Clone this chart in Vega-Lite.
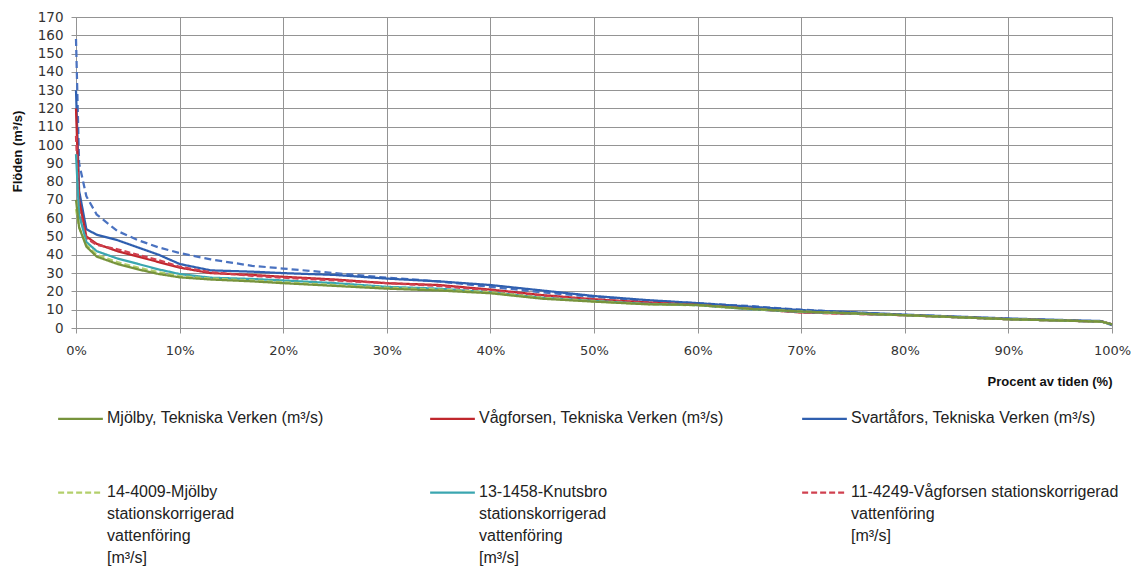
{
  "$schema": "https://vega.github.io/schema/vega-lite/v6.json",
  "width": 1036,
  "height": 311,
  "autosize": {"type": "none"},
  "padding": {"left": 76, "top": 17, "right": 30, "bottom": 238},
  "background": "white",
  "config": {
    "view": {"stroke": "#949494", "strokeWidth": 1},
    "style": {"guide-label": {"lineHeight": 22}}
  },
  "data": {
    "values": [
      {"s": "Svartåfors stationskorrigerad vattenföring [m³/s]", "p": 0, "v": 158},
      {"s": "Svartåfors stationskorrigerad vattenföring [m³/s]", "p": 0.3, "v": 90},
      {"s": "Svartåfors stationskorrigerad vattenföring [m³/s]", "p": 1, "v": 72},
      {"s": "Svartåfors stationskorrigerad vattenföring [m³/s]", "p": 2, "v": 62},
      {"s": "Svartåfors stationskorrigerad vattenföring [m³/s]", "p": 4, "v": 53},
      {"s": "Svartåfors stationskorrigerad vattenföring [m³/s]", "p": 6, "v": 48},
      {"s": "Svartåfors stationskorrigerad vattenföring [m³/s]", "p": 8, "v": 44},
      {"s": "Svartåfors stationskorrigerad vattenföring [m³/s]", "p": 10, "v": 41},
      {"s": "Svartåfors stationskorrigerad vattenföring [m³/s]", "p": 13, "v": 37.5},
      {"s": "Svartåfors stationskorrigerad vattenföring [m³/s]", "p": 17, "v": 34},
      {"s": "Svartåfors stationskorrigerad vattenföring [m³/s]", "p": 20, "v": 32.5},
      {"s": "Svartåfors stationskorrigerad vattenföring [m³/s]", "p": 25, "v": 30},
      {"s": "Svartåfors stationskorrigerad vattenföring [m³/s]", "p": 30, "v": 27.5},
      {"s": "Svartåfors stationskorrigerad vattenföring [m³/s]", "p": 35, "v": 25.5},
      {"s": "Svartåfors stationskorrigerad vattenföring [m³/s]", "p": 40, "v": 22.5},
      {"s": "Svartåfors stationskorrigerad vattenföring [m³/s]", "p": 45, "v": 19.5},
      {"s": "Svartåfors stationskorrigerad vattenföring [m³/s]", "p": 50, "v": 17},
      {"s": "Svartåfors stationskorrigerad vattenföring [m³/s]", "p": 55, "v": 15},
      {"s": "Svartåfors stationskorrigerad vattenföring [m³/s]", "p": 60, "v": 13.5},
      {"s": "Svartåfors stationskorrigerad vattenföring [m³/s]", "p": 65, "v": 12},
      {"s": "Svartåfors stationskorrigerad vattenföring [m³/s]", "p": 70, "v": 10},
      {"s": "Svartåfors stationskorrigerad vattenföring [m³/s]", "p": 80, "v": 7.2},
      {"s": "Svartåfors stationskorrigerad vattenföring [m³/s]", "p": 90, "v": 5},
      {"s": "Svartåfors stationskorrigerad vattenföring [m³/s]", "p": 99, "v": 3.5},
      {"s": "Svartåfors stationskorrigerad vattenföring [m³/s]", "p": 100, "v": 2},

      {"s": "Svartåfors, Tekniska Verken (m³/s)", "p": 0, "v": 130},
      {"s": "Svartåfors, Tekniska Verken (m³/s)", "p": 0.3, "v": 75},
      {"s": "Svartåfors, Tekniska Verken (m³/s)", "p": 1, "v": 54},
      {"s": "Svartåfors, Tekniska Verken (m³/s)", "p": 2, "v": 51},
      {"s": "Svartåfors, Tekniska Verken (m³/s)", "p": 4, "v": 48},
      {"s": "Svartåfors, Tekniska Verken (m³/s)", "p": 6, "v": 44},
      {"s": "Svartåfors, Tekniska Verken (m³/s)", "p": 8, "v": 40},
      {"s": "Svartåfors, Tekniska Verken (m³/s)", "p": 10, "v": 35},
      {"s": "Svartåfors, Tekniska Verken (m³/s)", "p": 13, "v": 31.5},
      {"s": "Svartåfors, Tekniska Verken (m³/s)", "p": 17, "v": 30.8},
      {"s": "Svartåfors, Tekniska Verken (m³/s)", "p": 20, "v": 30},
      {"s": "Svartåfors, Tekniska Verken (m³/s)", "p": 25, "v": 29},
      {"s": "Svartåfors, Tekniska Verken (m³/s)", "p": 30, "v": 27},
      {"s": "Svartåfors, Tekniska Verken (m³/s)", "p": 35, "v": 25.5},
      {"s": "Svartåfors, Tekniska Verken (m³/s)", "p": 40, "v": 23.5},
      {"s": "Svartåfors, Tekniska Verken (m³/s)", "p": 45, "v": 20.5},
      {"s": "Svartåfors, Tekniska Verken (m³/s)", "p": 50, "v": 17.5},
      {"s": "Svartåfors, Tekniska Verken (m³/s)", "p": 55, "v": 15.3},
      {"s": "Svartåfors, Tekniska Verken (m³/s)", "p": 60, "v": 13.6},
      {"s": "Svartåfors, Tekniska Verken (m³/s)", "p": 65, "v": 11.7},
      {"s": "Svartåfors, Tekniska Verken (m³/s)", "p": 70, "v": 9.8},
      {"s": "Svartåfors, Tekniska Verken (m³/s)", "p": 80, "v": 7.3},
      {"s": "Svartåfors, Tekniska Verken (m³/s)", "p": 90, "v": 5.2},
      {"s": "Svartåfors, Tekniska Verken (m³/s)", "p": 99, "v": 3.8},
      {"s": "Svartåfors, Tekniska Verken (m³/s)", "p": 100, "v": 1.5},

      {"s": "Vågforsen, Tekniska Verken (m³/s)", "p": 0, "v": 120},
      {"s": "Vågforsen, Tekniska Verken (m³/s)", "p": 0.3, "v": 70},
      {"s": "Vågforsen, Tekniska Verken (m³/s)", "p": 1, "v": 50},
      {"s": "Vågforsen, Tekniska Verken (m³/s)", "p": 2, "v": 46},
      {"s": "Vågforsen, Tekniska Verken (m³/s)", "p": 4, "v": 42},
      {"s": "Vågforsen, Tekniska Verken (m³/s)", "p": 6, "v": 39},
      {"s": "Vågforsen, Tekniska Verken (m³/s)", "p": 8, "v": 36},
      {"s": "Vågforsen, Tekniska Verken (m³/s)", "p": 10, "v": 33},
      {"s": "Vågforsen, Tekniska Verken (m³/s)", "p": 13, "v": 30},
      {"s": "Vågforsen, Tekniska Verken (m³/s)", "p": 17, "v": 29},
      {"s": "Vågforsen, Tekniska Verken (m³/s)", "p": 20, "v": 28},
      {"s": "Vågforsen, Tekniska Verken (m³/s)", "p": 25, "v": 26.5},
      {"s": "Vågforsen, Tekniska Verken (m³/s)", "p": 30, "v": 24.5},
      {"s": "Vågforsen, Tekniska Verken (m³/s)", "p": 35, "v": 23.5},
      {"s": "Vågforsen, Tekniska Verken (m³/s)", "p": 40, "v": 21},
      {"s": "Vågforsen, Tekniska Verken (m³/s)", "p": 45, "v": 18},
      {"s": "Vågforsen, Tekniska Verken (m³/s)", "p": 50, "v": 15.7},
      {"s": "Vågforsen, Tekniska Verken (m³/s)", "p": 55, "v": 14},
      {"s": "Vågforsen, Tekniska Verken (m³/s)", "p": 60, "v": 12.6},
      {"s": "Vågforsen, Tekniska Verken (m³/s)", "p": 65, "v": 10.5},
      {"s": "Vågforsen, Tekniska Verken (m³/s)", "p": 70, "v": 8.5},
      {"s": "Vågforsen, Tekniska Verken (m³/s)", "p": 80, "v": 7},
      {"s": "Vågforsen, Tekniska Verken (m³/s)", "p": 90, "v": 4.8},
      {"s": "Vågforsen, Tekniska Verken (m³/s)", "p": 99, "v": 3.5},
      {"s": "Vågforsen, Tekniska Verken (m³/s)", "p": 100, "v": 2},

      {"s": "11-4249-Vågforsen stationskorrigerad vattenföring [m³/s]", "p": 0, "v": 105},
      {"s": "11-4249-Vågforsen stationskorrigerad vattenföring [m³/s]", "p": 0.3, "v": 65},
      {"s": "11-4249-Vågforsen stationskorrigerad vattenföring [m³/s]", "p": 1, "v": 49},
      {"s": "11-4249-Vågforsen stationskorrigerad vattenföring [m³/s]", "p": 2, "v": 45.5},
      {"s": "11-4249-Vågforsen stationskorrigerad vattenföring [m³/s]", "p": 4, "v": 43},
      {"s": "11-4249-Vågforsen stationskorrigerad vattenföring [m³/s]", "p": 6, "v": 40},
      {"s": "11-4249-Vågforsen stationskorrigerad vattenföring [m³/s]", "p": 8, "v": 37},
      {"s": "11-4249-Vågforsen stationskorrigerad vattenföring [m³/s]", "p": 10, "v": 33.5},
      {"s": "11-4249-Vågforsen stationskorrigerad vattenföring [m³/s]", "p": 13, "v": 30.5},
      {"s": "11-4249-Vågforsen stationskorrigerad vattenföring [m³/s]", "p": 17, "v": 28.5},
      {"s": "11-4249-Vågforsen stationskorrigerad vattenföring [m³/s]", "p": 20, "v": 27.5},
      {"s": "11-4249-Vågforsen stationskorrigerad vattenföring [m³/s]", "p": 25, "v": 26},
      {"s": "11-4249-Vågforsen stationskorrigerad vattenföring [m³/s]", "p": 30, "v": 24.5},
      {"s": "11-4249-Vågforsen stationskorrigerad vattenföring [m³/s]", "p": 35, "v": 23},
      {"s": "11-4249-Vågforsen stationskorrigerad vattenföring [m³/s]", "p": 40, "v": 20.5},
      {"s": "11-4249-Vågforsen stationskorrigerad vattenföring [m³/s]", "p": 45, "v": 17.5},
      {"s": "11-4249-Vågforsen stationskorrigerad vattenföring [m³/s]", "p": 50, "v": 15.5},
      {"s": "11-4249-Vågforsen stationskorrigerad vattenföring [m³/s]", "p": 55, "v": 13.8},
      {"s": "11-4249-Vågforsen stationskorrigerad vattenföring [m³/s]", "p": 60, "v": 12.5},
      {"s": "11-4249-Vågforsen stationskorrigerad vattenföring [m³/s]", "p": 65, "v": 10.5},
      {"s": "11-4249-Vågforsen stationskorrigerad vattenföring [m³/s]", "p": 70, "v": 8.6},
      {"s": "11-4249-Vågforsen stationskorrigerad vattenföring [m³/s]", "p": 80, "v": 7},
      {"s": "11-4249-Vågforsen stationskorrigerad vattenföring [m³/s]", "p": 90, "v": 4.8},
      {"s": "11-4249-Vågforsen stationskorrigerad vattenföring [m³/s]", "p": 99, "v": 3.5},
      {"s": "11-4249-Vågforsen stationskorrigerad vattenföring [m³/s]", "p": 100, "v": 2},

      {"s": "13-1458-Knutsbro stationskorrigerad vattenföring [m³/s]", "p": 0, "v": 95},
      {"s": "13-1458-Knutsbro stationskorrigerad vattenföring [m³/s]", "p": 0.3, "v": 62},
      {"s": "13-1458-Knutsbro stationskorrigerad vattenföring [m³/s]", "p": 1, "v": 47},
      {"s": "13-1458-Knutsbro stationskorrigerad vattenföring [m³/s]", "p": 2, "v": 42},
      {"s": "13-1458-Knutsbro stationskorrigerad vattenföring [m³/s]", "p": 4, "v": 38},
      {"s": "13-1458-Knutsbro stationskorrigerad vattenföring [m³/s]", "p": 6, "v": 35},
      {"s": "13-1458-Knutsbro stationskorrigerad vattenföring [m³/s]", "p": 8, "v": 32},
      {"s": "13-1458-Knutsbro stationskorrigerad vattenföring [m³/s]", "p": 10, "v": 29.5},
      {"s": "13-1458-Knutsbro stationskorrigerad vattenföring [m³/s]", "p": 13, "v": 27.5},
      {"s": "13-1458-Knutsbro stationskorrigerad vattenföring [m³/s]", "p": 17, "v": 26.8},
      {"s": "13-1458-Knutsbro stationskorrigerad vattenföring [m³/s]", "p": 20, "v": 26},
      {"s": "13-1458-Knutsbro stationskorrigerad vattenföring [m³/s]", "p": 25, "v": 24.5},
      {"s": "13-1458-Knutsbro stationskorrigerad vattenföring [m³/s]", "p": 30, "v": 22.5},
      {"s": "13-1458-Knutsbro stationskorrigerad vattenföring [m³/s]", "p": 35, "v": 21.5},
      {"s": "13-1458-Knutsbro stationskorrigerad vattenföring [m³/s]", "p": 40, "v": 19.5},
      {"s": "13-1458-Knutsbro stationskorrigerad vattenföring [m³/s]", "p": 45, "v": 16.5},
      {"s": "13-1458-Knutsbro stationskorrigerad vattenföring [m³/s]", "p": 50, "v": 14.8},
      {"s": "13-1458-Knutsbro stationskorrigerad vattenföring [m³/s]", "p": 55, "v": 13.2},
      {"s": "13-1458-Knutsbro stationskorrigerad vattenföring [m³/s]", "p": 60, "v": 12.5},
      {"s": "13-1458-Knutsbro stationskorrigerad vattenföring [m³/s]", "p": 65, "v": 10.3},
      {"s": "13-1458-Knutsbro stationskorrigerad vattenföring [m³/s]", "p": 70, "v": 8.8},
      {"s": "13-1458-Knutsbro stationskorrigerad vattenföring [m³/s]", "p": 80, "v": 7},
      {"s": "13-1458-Knutsbro stationskorrigerad vattenföring [m³/s]", "p": 90, "v": 4.8},
      {"s": "13-1458-Knutsbro stationskorrigerad vattenföring [m³/s]", "p": 99, "v": 3.5},
      {"s": "13-1458-Knutsbro stationskorrigerad vattenföring [m³/s]", "p": 100, "v": 2},

      {"s": "14-4009-Mjölby stationskorrigerad vattenföring [m³/s]", "p": 0, "v": 65},
      {"s": "14-4009-Mjölby stationskorrigerad vattenföring [m³/s]", "p": 0.3, "v": 55},
      {"s": "14-4009-Mjölby stationskorrigerad vattenföring [m³/s]", "p": 1, "v": 45.5},
      {"s": "14-4009-Mjölby stationskorrigerad vattenföring [m³/s]", "p": 2, "v": 40},
      {"s": "14-4009-Mjölby stationskorrigerad vattenföring [m³/s]", "p": 4, "v": 36},
      {"s": "14-4009-Mjölby stationskorrigerad vattenföring [m³/s]", "p": 6, "v": 33},
      {"s": "14-4009-Mjölby stationskorrigerad vattenföring [m³/s]", "p": 8, "v": 30.5},
      {"s": "14-4009-Mjölby stationskorrigerad vattenföring [m³/s]", "p": 10, "v": 28.4},
      {"s": "14-4009-Mjölby stationskorrigerad vattenföring [m³/s]", "p": 13, "v": 27},
      {"s": "14-4009-Mjölby stationskorrigerad vattenföring [m³/s]", "p": 17, "v": 26},
      {"s": "14-4009-Mjölby stationskorrigerad vattenföring [m³/s]", "p": 20, "v": 25},
      {"s": "14-4009-Mjölby stationskorrigerad vattenföring [m³/s]", "p": 25, "v": 23.5},
      {"s": "14-4009-Mjölby stationskorrigerad vattenföring [m³/s]", "p": 30, "v": 22},
      {"s": "14-4009-Mjölby stationskorrigerad vattenföring [m³/s]", "p": 35, "v": 21},
      {"s": "14-4009-Mjölby stationskorrigerad vattenföring [m³/s]", "p": 40, "v": 19.5},
      {"s": "14-4009-Mjölby stationskorrigerad vattenföring [m³/s]", "p": 45, "v": 16.5},
      {"s": "14-4009-Mjölby stationskorrigerad vattenföring [m³/s]", "p": 50, "v": 14.6},
      {"s": "14-4009-Mjölby stationskorrigerad vattenföring [m³/s]", "p": 55, "v": 13},
      {"s": "14-4009-Mjölby stationskorrigerad vattenföring [m³/s]", "p": 60, "v": 12.4},
      {"s": "14-4009-Mjölby stationskorrigerad vattenföring [m³/s]", "p": 65, "v": 10.4},
      {"s": "14-4009-Mjölby stationskorrigerad vattenföring [m³/s]", "p": 70, "v": 9},
      {"s": "14-4009-Mjölby stationskorrigerad vattenföring [m³/s]", "p": 80, "v": 7},
      {"s": "14-4009-Mjölby stationskorrigerad vattenföring [m³/s]", "p": 90, "v": 4.8},
      {"s": "14-4009-Mjölby stationskorrigerad vattenföring [m³/s]", "p": 99, "v": 3.5},
      {"s": "14-4009-Mjölby stationskorrigerad vattenföring [m³/s]", "p": 100, "v": 2},

      {"s": "Mjölby, Tekniska Verken (m³/s)", "p": 0, "v": 70},
      {"s": "Mjölby, Tekniska Verken (m³/s)", "p": 0.3, "v": 55},
      {"s": "Mjölby, Tekniska Verken (m³/s)", "p": 1, "v": 44.5},
      {"s": "Mjölby, Tekniska Verken (m³/s)", "p": 2, "v": 39},
      {"s": "Mjölby, Tekniska Verken (m³/s)", "p": 4, "v": 35},
      {"s": "Mjölby, Tekniska Verken (m³/s)", "p": 6, "v": 32},
      {"s": "Mjölby, Tekniska Verken (m³/s)", "p": 8, "v": 29.5},
      {"s": "Mjölby, Tekniska Verken (m³/s)", "p": 10, "v": 27.7},
      {"s": "Mjölby, Tekniska Verken (m³/s)", "p": 13, "v": 26.5},
      {"s": "Mjölby, Tekniska Verken (m³/s)", "p": 17, "v": 25.5},
      {"s": "Mjölby, Tekniska Verken (m³/s)", "p": 20, "v": 24.5},
      {"s": "Mjölby, Tekniska Verken (m³/s)", "p": 25, "v": 23},
      {"s": "Mjölby, Tekniska Verken (m³/s)", "p": 30, "v": 21.5},
      {"s": "Mjölby, Tekniska Verken (m³/s)", "p": 35, "v": 20.5},
      {"s": "Mjölby, Tekniska Verken (m³/s)", "p": 40, "v": 19},
      {"s": "Mjölby, Tekniska Verken (m³/s)", "p": 45, "v": 16},
      {"s": "Mjölby, Tekniska Verken (m³/s)", "p": 50, "v": 14.4},
      {"s": "Mjölby, Tekniska Verken (m³/s)", "p": 55, "v": 13},
      {"s": "Mjölby, Tekniska Verken (m³/s)", "p": 60, "v": 12.6},
      {"s": "Mjölby, Tekniska Verken (m³/s)", "p": 65, "v": 10.5},
      {"s": "Mjölby, Tekniska Verken (m³/s)", "p": 70, "v": 9},
      {"s": "Mjölby, Tekniska Verken (m³/s)", "p": 80, "v": 7},
      {"s": "Mjölby, Tekniska Verken (m³/s)", "p": 90, "v": 4.8},
      {"s": "Mjölby, Tekniska Verken (m³/s)", "p": 99, "v": 3.5},
      {"s": "Mjölby, Tekniska Verken (m³/s)", "p": 100, "v": 2}
    ]
  },
  "mark": {"type": "line", "strokeCap": "butt", "strokeJoin": "round"},
  "encoding": {
    "x": {
      "field": "p",
      "type": "quantitative",
      "scale": {"domain": [0, 100], "nice": false},
      "axis": {
        "values": [0, 10, 20, 30, 40, 50, 60, 70, 80, 90, 100],
        "labelExpr": "datum.value + '%'",
        "labelFlush": false,
        "labelFont": "DejaVu Sans",
        "labelFontSize": 13,
        "labelColor": "#333333",
        "labelPadding": 11,
        "grid": true,
        "gridColor": "#949494",
        "domainColor": "#949494",
        "tickColor": "#949494",
        "tickSize": 5,
        "title": "Procent av tiden (%)",
        "titleFont": "Liberation Sans",
        "titleFontSize": 13,
        "titleFontWeight": "bold",
        "titleColor": "#111111",
        "titleX": 1036,
        "titleY": 53,
        "titleAlign": "right",
        "titleBaseline": "middle"
      }
    },
    "y": {
      "field": "v",
      "type": "quantitative",
      "scale": {"domain": [0, 170], "nice": false},
      "axis": {
        "values": [0, 10, 20, 30, 40, 50, 60, 70, 80, 90, 100, 110, 120, 130, 140, 150, 160, 170],
        "labelOverlap": false,
        "labelFont": "DejaVu Sans",
        "labelFontSize": 13.5,
        "labelColor": "#333333",
        "labelPadding": 8,
        "grid": true,
        "gridColor": "#949494",
        "domainColor": "#949494",
        "tickColor": "#949494",
        "tickSize": 5,
        "title": "Flöden (m³/s)",
        "titleFont": "Liberation Sans",
        "titleFontSize": 13,
        "titleFontWeight": "bold",
        "titleColor": "#111111",
        "titleAngle": -90,
        "titleX": -59,
        "titleY": 134,
        "titleAlign": "center",
        "titleBaseline": "middle"
      }
    },
    "color": {
      "field": "s",
      "type": "nominal",
      "scale": {
        "domain": [
          "Mjölby, Tekniska Verken (m³/s)",
          "Vågforsen, Tekniska Verken (m³/s)",
          "Svartåfors, Tekniska Verken (m³/s)",
          "14-4009-Mjölby stationskorrigerad vattenföring [m³/s]",
          "13-1458-Knutsbro stationskorrigerad vattenföring [m³/s]",
          "11-4249-Vågforsen stationskorrigerad vattenföring [m³/s]",
          "Svartåfors stationskorrigerad vattenföring [m³/s]"
        ],
        "range": ["#77933C", "#C0272D", "#2F5FAF", "#B3CF6B", "#3AA6B0", "#D0404F", "#4A72C0"]
      },
      "legend": {
        "title": null,
        "orient": "none",
        "legendX": -19,
        "legendY": 345,
        "direction": "horizontal",
        "columns": 3,
        "gridAlign": "all",
        "columnPadding": 50,
        "rowPadding": 10,
        "values": [
          "Mjölby, Tekniska Verken (m³/s)",
          "Vågforsen, Tekniska Verken (m³/s)",
          "Svartåfors, Tekniska Verken (m³/s)",
          "14-4009-Mjölby stationskorrigerad vattenföring [m³/s]",
          "13-1458-Knutsbro stationskorrigerad vattenföring [m³/s]",
          "11-4249-Vågforsen stationskorrigerad vattenföring [m³/s]"
        ],
        "symbolType": "stroke",
        "symbolSize": 2000,
        "symbolStrokeWidth": 2.5,
        "labelFont": "Liberation Sans Narrow, Liberation Sans, sans-serif",
        "labelFontSize": 16,
        "labelColor": "#222222",
        "labelLimit": 400,
        "labelOffset": 3,
        "labelBaseline": "top",
        "labelExpr": "datum.label == '14-4009-Mjölby stationskorrigerad vattenföring [m³/s]' ? ['14-4009-Mjölby', 'stationskorrigerad', 'vattenföring', '[m³/s]'] : datum.label == '13-1458-Knutsbro stationskorrigerad vattenföring [m³/s]' ? ['13-1458-Knutsbro', 'stationskorrigerad', 'vattenföring', '[m³/s]'] : datum.label == '11-4249-Vågforsen stationskorrigerad vattenföring [m³/s]' ? ['11-4249-Vågforsen stationskorrigerad', 'vattenföring', '[m³/s]'] : datum.label",
        "encode": {"labels": {"update": {"dy": {"value": -9}}}}
      }
    },
    "strokeDash": {
      "field": "s",
      "type": "nominal",
      "scale": {
        "domain": [
          "Mjölby, Tekniska Verken (m³/s)",
          "Vågforsen, Tekniska Verken (m³/s)",
          "Svartåfors, Tekniska Verken (m³/s)",
          "14-4009-Mjölby stationskorrigerad vattenföring [m³/s]",
          "13-1458-Knutsbro stationskorrigerad vattenföring [m³/s]",
          "11-4249-Vågforsen stationskorrigerad vattenföring [m³/s]",
          "Svartåfors stationskorrigerad vattenföring [m³/s]"
        ],
        "range": [[1, 0], [1, 0], [1, 0], [6, 3], [1, 0], [6, 3], [7, 4]]
      },
      "legend": {
        "title": null,
        "orient": "none",
        "legendX": -19,
        "legendY": 345,
        "direction": "horizontal",
        "columns": 3,
        "gridAlign": "all",
        "columnPadding": 50,
        "rowPadding": 10,
        "values": [
          "Mjölby, Tekniska Verken (m³/s)",
          "Vågforsen, Tekniska Verken (m³/s)",
          "Svartåfors, Tekniska Verken (m³/s)",
          "14-4009-Mjölby stationskorrigerad vattenföring [m³/s]",
          "13-1458-Knutsbro stationskorrigerad vattenföring [m³/s]",
          "11-4249-Vågforsen stationskorrigerad vattenföring [m³/s]"
        ],
        "symbolType": "stroke",
        "symbolSize": 2000,
        "symbolStrokeWidth": 2.5,
        "labelFont": "Liberation Sans Narrow, Liberation Sans, sans-serif",
        "labelFontSize": 16,
        "labelColor": "#222222",
        "labelLimit": 400,
        "labelOffset": 3,
        "labelBaseline": "top",
        "labelExpr": "datum.label == '14-4009-Mjölby stationskorrigerad vattenföring [m³/s]' ? ['14-4009-Mjölby', 'stationskorrigerad', 'vattenföring', '[m³/s]'] : datum.label == '13-1458-Knutsbro stationskorrigerad vattenföring [m³/s]' ? ['13-1458-Knutsbro', 'stationskorrigerad', 'vattenföring', '[m³/s]'] : datum.label == '11-4249-Vågforsen stationskorrigerad vattenföring [m³/s]' ? ['11-4249-Vågforsen stationskorrigerad', 'vattenföring', '[m³/s]'] : datum.label",
        "encode": {"labels": {"update": {"dy": {"value": -9}}}}
      }
    },
    "strokeWidth": {
      "field": "s",
      "type": "ordinal",
      "scale": {
        "domain": [
          "Mjölby, Tekniska Verken (m³/s)",
          "Vågforsen, Tekniska Verken (m³/s)",
          "Svartåfors, Tekniska Verken (m³/s)",
          "14-4009-Mjölby stationskorrigerad vattenföring [m³/s]",
          "13-1458-Knutsbro stationskorrigerad vattenföring [m³/s]",
          "11-4249-Vågforsen stationskorrigerad vattenföring [m³/s]",
          "Svartåfors stationskorrigerad vattenföring [m³/s]"
        ],
        "range": [2.25, 2.25, 2.25, 2.5, 4, 2.5, 2.5]
      },
      "legend": null
    }
  }
}
